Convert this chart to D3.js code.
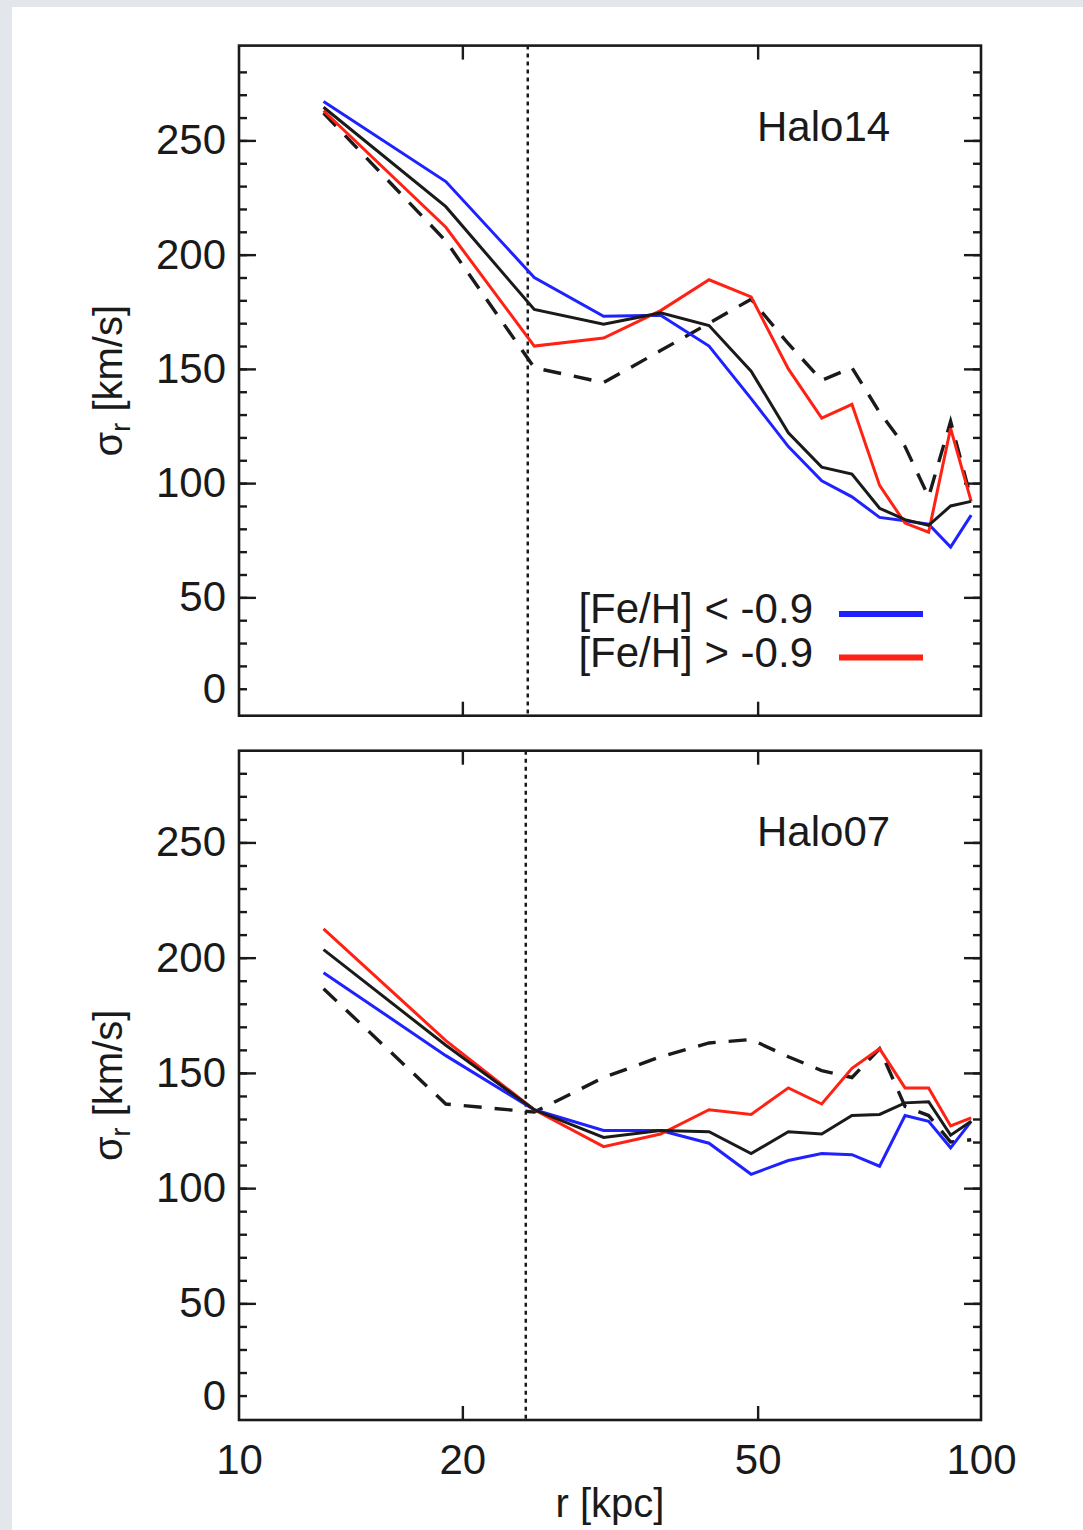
<!DOCTYPE html>
<html>
<head>
<meta charset="utf-8">
<script src="https://cdn.jsdelivr.net/npm/d3@7/dist/d3.min.js"></script>
<style>
    body { margin: 0; background: #e3e6ea; }
    svg { display: block; font-family: "Liberation Sans", Arial, sans-serif; }
</style>
</head>
<body>
<svg id="chart" width="1083" height="1530"></svg>
<script>
// radial bins [kpc]
const radius = [13, 19, 25, 31, 37, 43, 49, 55, 61, 67, 73, 79, 85, 91, 97];

// Halo14, sigma_r [km/s]
const halo14Poor = [267, 232, 190, 173, 173.5, 160, 137, 116, 101, 94, 85, 83.5, 82, 72, 86];
const halo14All = [264.5, 221, 176, 169.5, 174.5, 169, 149, 122, 107, 104, 89, 84, 81.5, 90, 92];
const halo14Rich = [263, 212, 160, 163.5, 175.5, 189, 181.5, 150, 128.5, 134.5, 99, 82.5, 78.5, 124, 92];
const halo14Dash = [262, 206, 150.5, 144, 158, 170, 180.5, 161, 145, 150.5, 131, 116, 94, 127, 93];

// Halo07, sigma_r [km/s]
const halo07Poor = [193.5, 157.5, 134, 125, 125, 119.5, 106, 112, 115, 114.5, 109.5, 131.5, 129, 117.5, 129];
const halo07All = [203.5, 162, 134, 122, 125, 124.5, 115, 124.5, 123.5, 131.5, 132, 137, 137.5, 123, 129];
const halo07Rich = [212.5, 164, 134, 118, 123.5, 134, 132, 143.5, 136.5, 152, 160.5, 143.5, 143.5, 127, 130.5];
const halo07Dash = [186.5, 136.5, 133, 148, 157, 163, 164.5, 157, 151, 148, 160.5, 135.5, 131.5, 120, 121];

const xTickValues = [10, 20, 50, 100];
const xInnerTicks = [20, 50];
const yMajor = [50, 100, 150, 200, 250];
const yMinor = d3.range(10, 290, 10);
const yLabels = [10, 50, 100, 150, 200, 250];   // the lowest label reads "0"
const legendLabels = ['[Fe/H] < -0.9', '[Fe/H] > -0.9'];

const BLUE = '#1f22ff', RED = '#ff2214', INK = '#1a1a1a';

const svg = d3.select('#chart');

svg.append('rect')
    .attr('x', 12).attr('y', 7)
    .attr('width', 1083 - 12).attr('height', 1530 - 7)
    .attr('fill', '#fff');

const x = d3.scaleLog().domain([10, 100]).range([239, 981]);

const panels = [
    {name: 'Halo14', top: 45.6, bottom: 715.7, yDomain: [-1.8, 291.5], cut: 24.5,
        poor: halo14Poor, all: halo14All, rich: halo14Rich, dash: halo14Dash, legend: true},
    {name: 'Halo07', top: 750.7, bottom: 1420, yDomain: [-0.6, 289.8], cut: 24.35,
        poor: halo07Poor, all: halo07All, rich: halo07Rich, dash: halo07Dash, legend: false}
];

panels.forEach(function (p) {
    const y = d3.scaleLinear().domain(p.yDomain).range([p.bottom, p.top]);
    const g = svg.append('g');

    // Y minor / major ticks, both sides, pointing in
    g.append('g')
        .attr('transform', 'translate(239,0)')
        .call(d3.axisLeft(y).tickValues(yMinor).tickSize(-8).tickFormat(''));
    g.append('g')
        .attr('transform', 'translate(239,0)')
        .call(d3.axisLeft(y).tickValues(yMajor).tickSize(-17).tickFormat(''));
    g.append('g')
        .attr('transform', 'translate(981,0)')
        .call(d3.axisRight(y).tickValues(yMinor).tickSize(-8).tickFormat(''));
    g.append('g')
        .attr('transform', 'translate(981,0)')
        .call(d3.axisRight(y).tickValues(yMajor).tickSize(-17).tickFormat(''));

    // Y labels
    g.append('g')
        .attr('class', 'ylab')
        .attr('transform', 'translate(239,0)')
        .call(d3.axisLeft(y).tickValues(yLabels).tickSize(0).tickPadding(13)
            .tickFormat(function (d) { return d === 10 ? '0' : d; }));

    // X ticks at 20 and 50, top and bottom
    g.append('g')
        .attr('transform', `translate(0,${p.bottom})`)
        .call(d3.axisBottom(x).tickValues(xInnerTicks).tickSize(-14).tickFormat(''));
    g.append('g')
        .attr('transform', `translate(0,${p.top})`)
        .call(d3.axisTop(x).tickValues(xInnerTicks).tickSize(-14).tickFormat(''));

    g.selectAll('.domain').remove();
    g.selectAll('.tick line').attr('stroke', INK).attr('stroke-width', 2.4);
    g.selectAll('.ylab text').attr('font-size', 42).attr('fill', INK)
        .attr('font-family', '"Liberation Sans", Arial, sans-serif');

    // vertical dotted marker
    g.append('line')
        .attr('x1', x(p.cut)).attr('x2', x(p.cut))
        .attr('y1', p.top).attr('y2', p.bottom)
        .attr('stroke', INK).attr('stroke-width', 2.5)
        .attr('stroke-dasharray', '4,4');

    const line = d3.line()
        .x(function (d, i) { return x(radius[i]); })
        .y(function (d) { return y(d); });

    g.append('path').datum(p.dash)
        .attr('d', line).attr('fill', 'none')
        .attr('stroke', INK).attr('stroke-width', 3.4)
        .attr('stroke-dasharray', '18,13');
    g.append('path').datum(p.poor)
        .attr('d', line).attr('fill', 'none')
        .attr('stroke', BLUE).attr('stroke-width', 3);
    g.append('path').datum(p.rich)
        .attr('d', line).attr('fill', 'none')
        .attr('stroke', RED).attr('stroke-width', 3);
    g.append('path').datum(p.all)
        .attr('d', line).attr('fill', 'none')
        .attr('stroke', INK).attr('stroke-width', 3);

    // frame
    g.append('rect')
        .attr('x', 239).attr('y', p.top)
        .attr('width', 981 - 239).attr('height', p.bottom - p.top)
        .attr('fill', 'none').attr('stroke', INK).attr('stroke-width', 2.6);

    g.append('text')
        .attr('x', 757).attr('y', p.top + 95)
        .attr('font-size', 42).attr('fill', INK)
        .text(p.name);

    // y title
    const t = g.append('text')
        .attr('transform', `translate(122,${(p.top + p.bottom) / 2}) rotate(-90)`)
        .attr('text-anchor', 'middle')
        .attr('font-size', 40).attr('fill', INK);
    t.append('tspan').text('σ');
    t.append('tspan').attr('font-size', 27).attr('dy', 8).text('r');
    t.append('tspan').attr('dy', -8).text(' [km/s]');

    if (p.legend) {
        const leg = g.append('g');
        [BLUE, RED].forEach(function (c, i) {
            const yy = 614 + i * 43.5;
            leg.append('text')
                .attr('x', 813).attr('y', yy + 9)
                .attr('text-anchor', 'end')
                .attr('font-size', 42).attr('fill', INK)
                .text(legendLabels[i]);
            leg.append('line')
                .attr('x1', 839).attr('x2', 923)
                .attr('y1', yy).attr('y2', yy)
                .attr('stroke', c).attr('stroke-width', 6);
        });
    }
});

// X labels under the lower panel
svg.append('g')
    .attr('class', 'xlab')
    .attr('transform', 'translate(0,1420)')
    .call(d3.axisBottom(x).tickValues(xTickValues).tickSize(0).tickPadding(24)
        .tickFormat(d3.format('d')))
    .call(function (s) { s.select('.domain').remove(); })
    .selectAll('text')
    .attr('font-size', 42).attr('fill', INK)
    .attr('font-family', '"Liberation Sans", Arial, sans-serif');

svg.append('text')
    .attr('x', 610).attr('y', 1517)
    .attr('text-anchor', 'middle')
    .attr('font-size', 40).attr('fill', INK)
    .text('r [kpc]');
</script>
</body>
</html>
